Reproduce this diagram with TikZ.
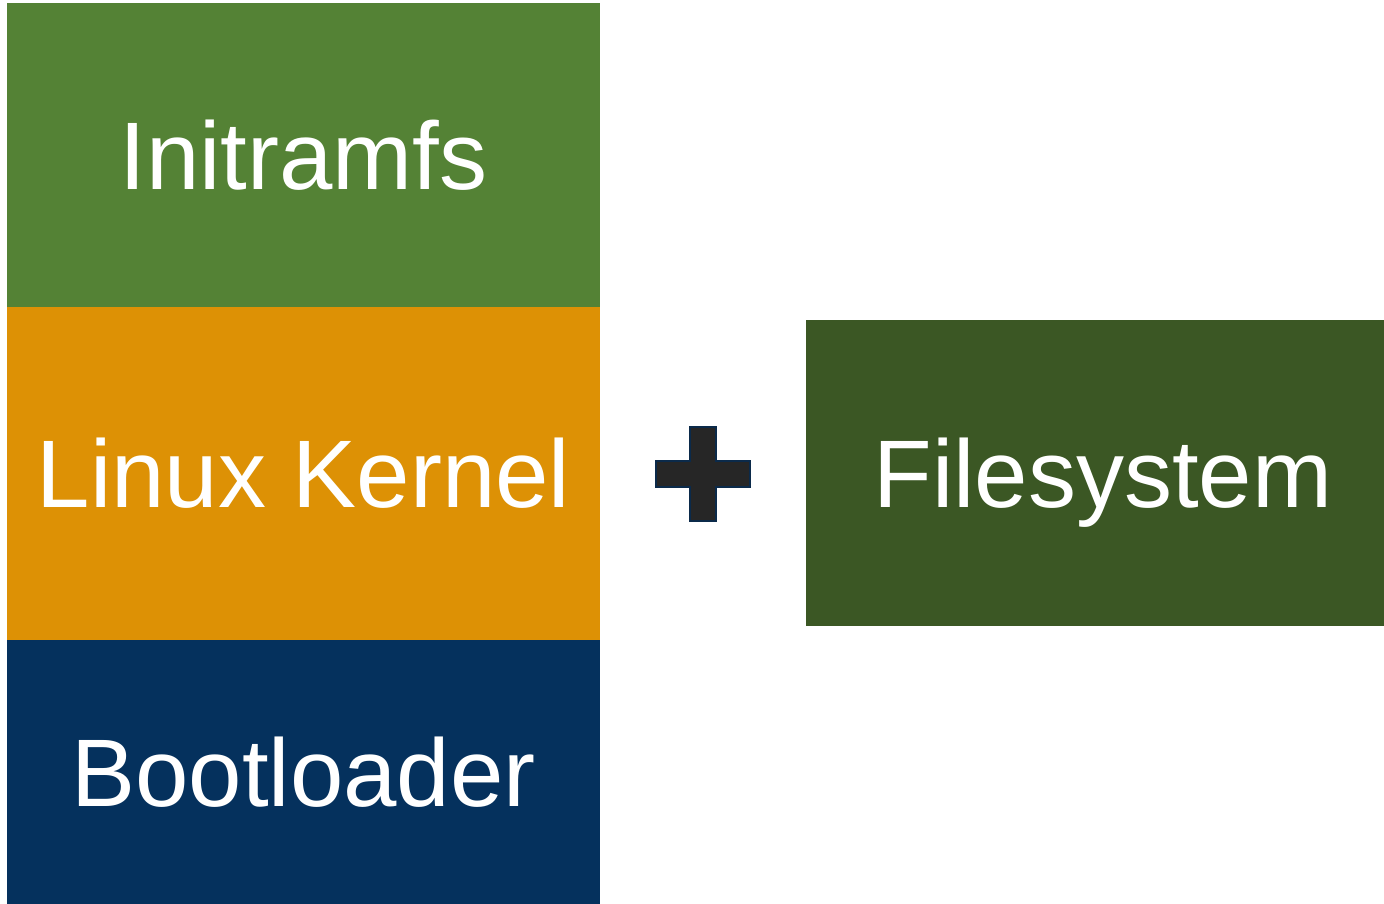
\documentclass[tikz,border=0pt]{standalone}
\usepackage{fontspec}
\setmainfont{Liberation Sans}
\usetikzlibrary{positioning}

\definecolor{initgreen}{HTML}{548235}
\definecolor{kernelorange}{HTML}{DD9105}
\definecolor{bootnavy}{HTML}{05315D}
\definecolor{fsgreen}{HTML}{3B5724}
\definecolor{plusfill}{HTML}{262626}
\definecolor{plusedge}{HTML}{0B2A4A}

\begin{document}
\begin{tikzpicture}[
    x=1pt,
    y=-1pt,
    node distance=0pt,
    font=\fontsize{96}{100}\selectfont,
    text=white,
    every node/.style={
      outer sep=0,
      inner sep=0
    }
  ]

  \tikzstyle{layer} = [rectangle, minimum width=593pt, text centered]
  \tikzstyle{plus} = [fill=plusfill, draw=plusedge, line width=1.5pt]

  \useasboundingbox (0,0) rectangle (1384,904);

  \node [layer, fill=initgreen, minimum height=304pt] (initramfs) at (303.5,155) {Initramfs};
  \node [layer, fill=kernelorange, minimum height=333pt, below=of initramfs] (kernel) {Linux Kernel};
  \node [layer, fill=bootnavy, minimum height=264pt, below=of kernel] (bootloader) {Bootloader};

  \node [rectangle, fill=fsgreen, minimum width=578pt, minimum height=306pt, text depth=0pt, text centered] (filesystem) at (1095,473) {\hspace*{16pt}Filesystem};

  \coordinate (plus) at (703,474);
  \draw [plus] (plus) ++(-13,-47) -- ++(26,0) -- ++(0,34) -- ++(34,0) -- ++(0,26)
    -- ++(-34,0) -- ++(0,34) -- ++(-26,0) -- ++(0,-34) -- ++(-34,0) -- ++(0,-26)
    -- ++(34,0) -- cycle;

\end{tikzpicture}
\end{document}
